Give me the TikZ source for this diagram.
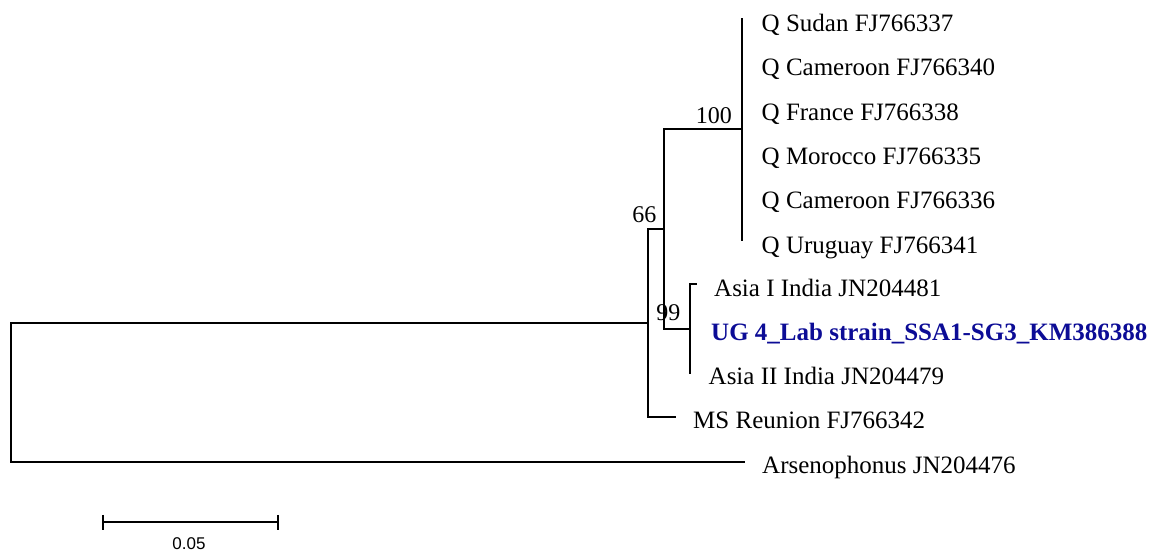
\documentclass[tikz,border=0pt]{standalone}
\usepackage{fontspec}
\setmainfont{Liberation Serif}
\newfontfamily\barfont{Liberation Sans}
\definecolor{ugblue}{RGB}{12,12,150}
\begin{document}
\begin{tikzpicture}[x=1pt,y=-1pt,
  branch/.style={line width=2pt,line cap=rect},
  tiplabel/.style={anchor=base west,inner sep=0pt,font=\fontsize{25}{30}\selectfont},
  ourlabel/.style={tiplabel,font=\fontsize{25}{30}\selectfont\bfseries,text=ugblue},
  boot/.style={anchor=base east,inner sep=0pt,font=\fontsize{24}{28}\selectfont},
  barlabel/.style={anchor=base,inner sep=0pt,font=\fontsize{17}{20}\barfont}]
\useasboundingbox (0,0) rectangle (1158,555);
% tips
\coordinate (t1) at (741.5,18.5);
\coordinate (t2) at (741.5,62.8);
\coordinate (t3) at (741.5,107.1);
\coordinate (t4) at (741.5,151.4);
\coordinate (t5) at (741.5,195.7);
\coordinate (t6) at (741.5,240);
\coordinate (t7) at (696,284.3);
\coordinate (t8) at (690,328.6);
\coordinate (t9) at (690,372.9);
\coordinate (t10) at (675.4,417.2);
\coordinate (t11) at (744,461.5);
% internal nodes
\coordinate (n100) at (741.5,129.25);
\coordinate (n99) at (690,328.6);
\coordinate (nA) at (664,228.9);
\coordinate (nIn) at (648,323.05);
\coordinate (root) at (11,392.3);
% branches
\draw[branch] (t1) -- (t6);
\draw[branch] (t7) -| (t9);
\draw[branch] (n100) -| (nA) |- (n99);
\draw[branch] (nA) -| (nIn) |- (t10);
\draw[branch] (nIn) -| (root) |- (t11);
% tip labels
\node[tiplabel] (l1) at (761.5,31.5) {Q Sudan FJ766337};
\node[tiplabel] (l2) at (761.5,75.8) {Q Cameroon FJ766340};
\node[tiplabel] (l3) at (761.5,120.1) {Q France FJ766338};
\node[tiplabel] (l4) at (761.5,164.4) {Q Morocco FJ766335};
\node[tiplabel] (l5) at (761.5,208.7) {Q Cameroon FJ766336};
\node[tiplabel] (l6) at (761.5,253) {Q Uruguay FJ766341};
\node[tiplabel] (l7) at (714,296) {Asia I India JN204481};
\node[ourlabel] (l8) at (711,340) {UG 4\_Lab strain\_SSA1-SG3\_KM386388};
\node[tiplabel] (l9) at (708.5,384.5) {Asia II India JN204479};
\node[tiplabel] (l10) at (693,428.5) {MS Reunion FJ766342};
\node[tiplabel] (l11) at (762,473) {Arsenophonus JN204476};
% bootstrap values
\node[boot] (b100) at (732,123.3) {100};
\node[boot] (b66) at (656.5,222.3) {66};
\node[boot] (b99) at (680.5,320) {99};
% scale bar
\coordinate (s1) at (102.7,522.3);
\coordinate (s2) at (278.3,522.3);
\draw[line width=2pt] (s1) -- (s2);
\draw[line width=2pt] ([yshift=7.5pt]s1) -- ([yshift=-7.5pt]s1);
\draw[line width=2pt] ([yshift=7.5pt]s2) -- ([yshift=-7.5pt]s2);
\node[barlabel] (sl) at (189,549) {0.05};
\end{tikzpicture}
\end{document}
